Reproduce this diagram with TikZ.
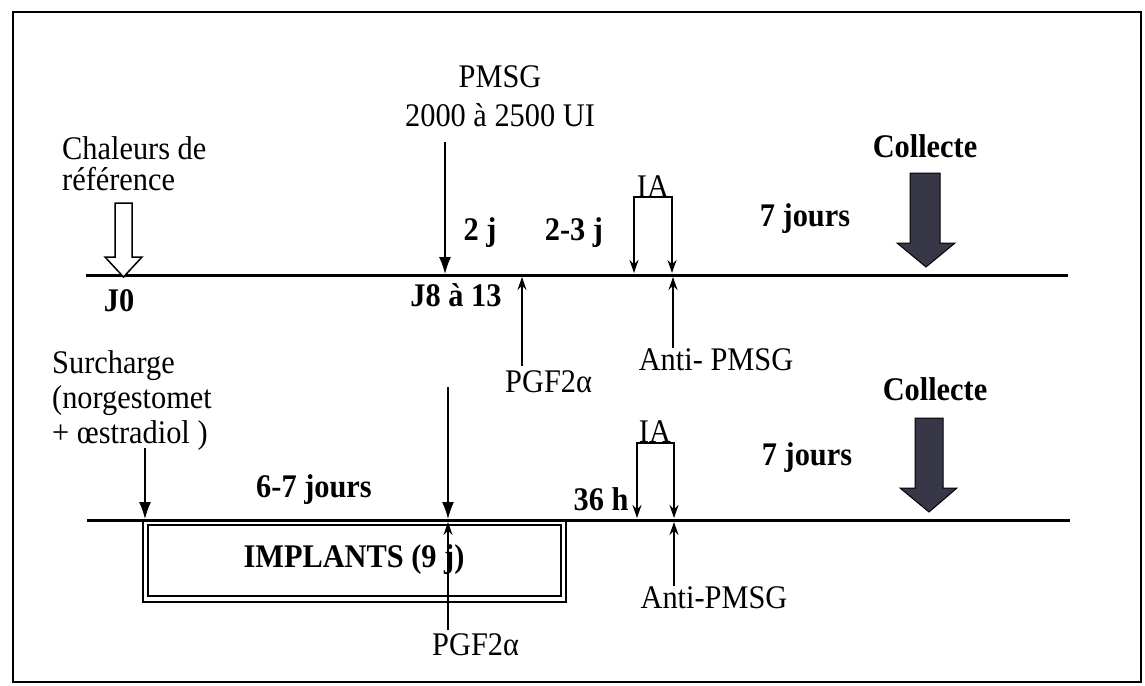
\documentclass[tikz,border=0pt]{standalone}
\usepackage{fontspec}
\setmainfont{Liberation Serif}[FakeStretch=0.92]
\usetikzlibrary{arrows.meta}
\begin{document}
\begin{tikzpicture}[x=1pt,y=-1pt,
  txt/.style={inner sep=0pt, font=\fontsize{33}{36}\selectfont},
  btxt/.style={inner sep=0pt, font=\fontsize{33}{36}\selectfont\bfseries},
  tline/.style={line width=3pt},
  bigarr/.style={line width=1.3pt, -{Latex[length=17pt,width=12pt]}},
  smarr/.style={line width=1.3pt, -{Stealth[length=13pt,width=9pt]}},
  iabr/.style={line width=1.3pt, {Stealth[length=13pt,width=9pt]}-{Stealth[length=13pt,width=9pt]}},
  openarr/.style={line width=1.5pt, fill=white},
  darkarr/.style={line width=1pt, draw=black, fill={rgb,255:red,55;green,55;blue,72}},
  frame/.style={line width=2pt},
  ]
\useasboundingbox (0,0) rectangle (1145,685);
\draw[frame] (13,12) rectangle (1141,682);

% ---------- top timeline ----------
\coordinate (t0) at (86,275);
\coordinate (t1) at (1068,275);
\draw[tline] (t0) -- (t1);

\node[txt, anchor=base west] (chal1) at (62,159) {Chaleurs de};
\node[txt, anchor=base west] (chal2) at (62,190) {référence};
\draw[openarr] (115,203) -- (132,203) -- (132,257) -- (142,257) -- (123.5,277) -- (105,257) -- (115,257) -- cycle;
\node[btxt, anchor=base] (j0) at (119,311) {J0};

\node[txt, anchor=base] (pmsg) at (500,87) {PMSG};
\node[txt, anchor=base] (dose) at (500,126) {2000 à 2500 UI};
\coordinate (pmtop) at (445,142);
\coordinate (pmbot) at (445,274);
\draw[bigarr] (pmtop) -- (pmbot);

\node[btxt, anchor=base] (dj1) at (480,240) {2 j};
\node[btxt, anchor=base] (dj2) at (574,240) {2-3 j};

\node[txt, anchor=base] (ia1) at (653,197) {IA};
\coordinate (ia1a) at (634,273);
\coordinate (ia1b) at (634,197);
\coordinate (ia1c) at (672,197);
\coordinate (ia1d) at (672,273);
\draw[iabr] (ia1a) -- (ia1b) -- (ia1c) -- (ia1d);

\node[btxt, anchor=base] (sj1) at (805,226) {7 jours};
\node[btxt, anchor=base] (col1) at (925,157) {Collecte};
\draw[darkarr] (910,173) -- (940,173) -- (940,243) -- (955,243) -- (926,267) -- (897,243) -- (910,243) -- cycle;

\node[btxt, anchor=base] (j8) at (456,306) {J8 à 13};

\node[txt, anchor=base west] (pgf1) at (505,392) {PGF2α};
\coordinate (pgf1top) at (522,366);
\coordinate (pgf1l) at (522,277);
\draw[smarr] (pgf1top) -- (pgf1l);

\node[txt, anchor=base] (anti1) at (716,370) {Anti- PMSG};
\coordinate (anti1top) at (673,348);
\coordinate (anti1l) at (673,277);
\draw[smarr] (anti1top) -- (anti1l);

% ---------- bottom timeline ----------
\coordinate (b0) at (87,520);
\coordinate (b1) at (1070,520);
\draw[tline] (b0) -- (b1);

\node[txt, anchor=base west] (sur1) at (52,373) {Surcharge};
\node[txt, anchor=base west] (sur2) at (52,408) {(norgestomet};
\node[txt, anchor=base west] (sur3) at (52,443) {+ œstradiol )};
\coordinate (surtop) at (145,448);
\coordinate (surbot) at (145,519);
\draw[bigarr] (surtop) -- (surbot);

\node[btxt, anchor=base] (sixj) at (314,497) {6-7 jours};

\coordinate (pgmtop) at (448,387);
\coordinate (pgmbot) at (448,519);
\draw[bigarr] (pgmtop) -- (pgmbot);

\draw[line width=1.8pt] (143,520) rectangle (566,602);
\draw[line width=1.5pt] (148,525) rectangle (561,596);
\node[btxt, anchor=base] (impl) at (354,567) {IMPLANTS (9 j)};

\node[txt, anchor=base west] (pgf2) at (432,655) {PGF2α};
\coordinate (pgf2top) at (448,630);
\coordinate (pgf2l) at (448,522);
\draw[smarr] (pgf2top) -- (pgf2l);

\node[btxt, anchor=base] (h36) at (601,510) {36 h};

\node[txt, anchor=base] (ia2) at (655,442) {IA};
\coordinate (ia2a) at (637,518);
\coordinate (ia2b) at (637,443);
\coordinate (ia2c) at (674,443);
\coordinate (ia2d) at (674,518);
\draw[iabr] (ia2a) -- (ia2b) -- (ia2c) -- (ia2d);

\node[btxt, anchor=base] (sj2) at (807,465) {7 jours};
\node[btxt, anchor=base] (col2) at (935,400) {Collecte};
\draw[darkarr] (915,418) -- (943,418) -- (943,488) -- (957,488) -- (929,512) -- (900,488) -- (915,488) -- cycle;

\node[txt, anchor=base] (anti2) at (714,608) {Anti-PMSG};
\coordinate (anti2top) at (674,586);
\coordinate (anti2l) at (674,522);
\draw[smarr] (anti2top) -- (anti2l);
\end{tikzpicture}
\end{document}
